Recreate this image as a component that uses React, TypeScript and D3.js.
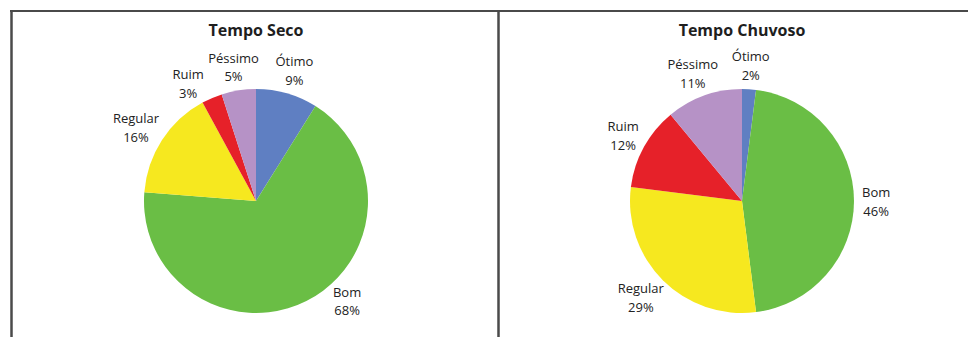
import React from "react";
import * as d3 from "d3";

const categories = ["Ótimo", "Bom", "Regular", "Ruim", "Péssimo"];
const secoValues = [9, 68, 16, 3, 5];
const chuvosoValues = [2, 46, 29, 12, 11];
const chartTitles = ["Tempo Seco", "Tempo Chuvoso"];
const sliceColors = ["#5f7fc2", "#6abe45", "#f6e81f", "#e62129", "#b692c6"];

const W = 968;
const H = 337;
const FONT = "'Open Sans', 'Noto Sans', sans-serif";
const LABEL_SIZE = 13;
const LABEL_H = 32;

let ctx: CanvasRenderingContext2D | null = null;
function textWidth(s: string): number {
  if (!ctx && typeof document !== "undefined") {
    ctx = document.createElement("canvas").getContext("2d");
  }
  if (!ctx) return s.length * 7;
  ctx.font = `${LABEL_SIZE}px 'Open Sans'`;
  return ctx.measureText(s).width;
}

type Datum = { c: string; v: number; color: string };
type PanelProps = { title: string; values: number[]; cx: number; cy: number; r: number };

function placeLabel(ang: number, r: number, w: number) {
  const g = 8;
  const ux = Math.sin(ang);
  const uy = -Math.cos(ang);
  return { x: (r + g) * ux + (ux * w) / 2, y: (r + g) * uy + (uy * LABEL_H) / 2 };
}

function PiePanel({ title, values, cx, cy, r }: PanelProps) {
  const data: Datum[] = categories.map((c, i) => ({ c, v: values[i], color: sliceColors[i] }));
  const pie = d3
    .pie<Datum>()
    .value((d) => d.v)
    .sort(null)
    .startAngle(0)
    .endAngle(Math.PI * 2);
  const arcs = pie(data);
  const arc = d3.arc<d3.PieArcDatum<Datum>>().innerRadius(0).outerRadius(r);
  const maxDy = 100;

  const labels = arcs.map((a) => {
    const w = Math.max(textWidth(a.data.c), textWidth(`${a.data.v}%`));
    let ang = (a.startAngle + a.endAngle) / 2;
    let p = placeLabel(ang, r, w);
    let guard = 0;
    while (p.y > maxDy && guard < 400) {
      ang += ang < Math.PI ? -0.01 : 0.01;
      p = placeLabel(ang, r, w);
      guard++;
    }
    return { a, w, ang, p, v: a.data.v };
  });

  // resolve overlaps between neighbouring labels: rotate the smaller slice's label away
  const overlaps = (l1: any, l2: any) =>
    Math.abs(l1.p.x - l2.p.x) < (l1.w + l2.w) / 2 + 4 && Math.abs(l1.p.y - l2.p.y) < LABEL_H;
  for (let i = 0; i < labels.length; i++) {
    const j = (i + 1) % labels.length;
    const A = labels[i];
    const B = labels[j];
    let guard = 0;
    while (overlaps(A, B) && guard < 300) {
      if (A.v <= B.v) {
        A.ang -= 0.01;
        A.p = placeLabel(A.ang, r, A.w);
      } else {
        B.ang += 0.01;
        B.p = placeLabel(B.ang, r, B.w);
      }
      guard++;
    }
  }

  return (
    <g>
      <text x={cx} y={36} textAnchor="middle" fontFamily={FONT} fontWeight={700} fontSize={16} fill="#1e1e1e">
        {title}
      </text>
      <g transform={`translate(${cx},${cy})`}>
        {arcs.map((a) => (
          <path key={a.data.c} d={arc(a) || ""} fill={a.data.color} />
        ))}
        {labels.map((l) => (
          <text key={"l" + l.a.data.c} textAnchor="middle" fontFamily={FONT} fontSize={LABEL_SIZE} fill="#222">
            <tspan x={l.p.x} y={l.p.y - 4}>{l.a.data.c}</tspan>
            <tspan x={l.p.x} y={l.p.y + 14.5}>{`${l.a.data.v}%`}</tspan>
          </text>
        ))}
      </g>
    </g>
  );
}

export default function App() {
  return (
    <svg width={W} height={H} style={{ position: "absolute", left: 0, top: 0, background: "#fff" }}>
      <rect x={0} y={0} width={W} height={H} fill="#fff" />
      <PiePanel title={chartTitles[0]} values={secoValues} cx={256} cy={201} r={112} />
      <PiePanel title={chartTitles[1]} values={chuvosoValues} cx={742} cy={201} r={112} />
      <line x1={10} x2={W} y1={11} y2={11} stroke="#4a4a4a" strokeWidth={2} />
      <line x1={11.5} x2={11.5} y1={10} y2={H} stroke="#4a4a4a" strokeWidth={2.5} />
      <line x1={498.5} x2={498.5} y1={10} y2={H} stroke="#4a4a4a" strokeWidth={2.5} />
    </svg>
  );
}
